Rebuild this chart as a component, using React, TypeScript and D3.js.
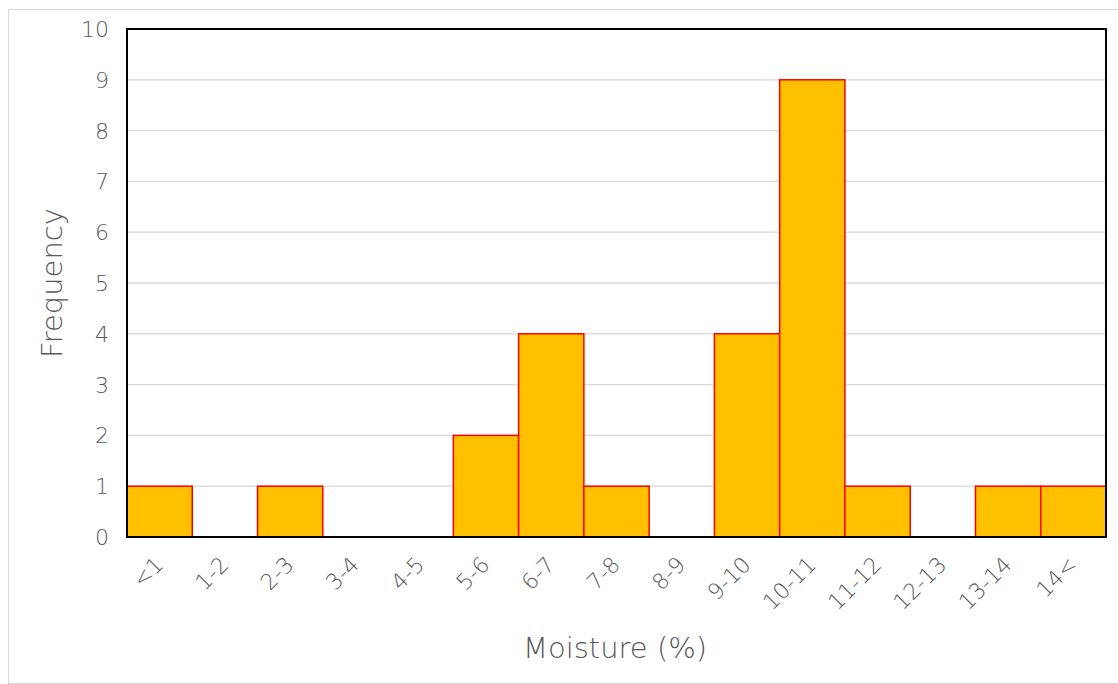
import React from "react";
import * as d3 from "d3";

const categories = ["<1", "1-2", "2-3", "3-4", "4-5", "5-6", "6-7", "7-8", "8-9", "9-10", "10-11", "11-12", "12-13", "13-14", "14<"];
const frequencies = [1, 0, 1, 0, 0, 2, 4, 1, 0, 4, 9, 1, 0, 1, 1];
const yTicks = [0, 1, 2, 3, 4, 5, 6, 7, 8, 9, 10];

const W = 1118;
const H = 684;
const M = { left: 127, top: 29, right: 1106, bottom: 537 };
const FONT = "'DejaVu Sans', sans-serif";
const TEXT = "#595959";

export default function App() {
  const x = d3.scaleBand<string>().domain(categories).range([M.left, M.right]).padding(0);
  const y = d3.scaleLinear().domain([0, 10]).range([M.bottom, M.top]);

  return (
    <svg width={W} height={H} style={{ position: "absolute", left: 0, top: 0 }}>
      <rect x={0} y={0} width={W} height={H} fill="#fff" />
      <rect x={8.5} y={9.5} width={W + 10} height={H - 10} fill="none" stroke="#d9d9d9" strokeWidth={1} />

      {/* gridlines */}
      {yTicks.filter((t) => t > 0 && t < 10).map((t) => (
        <line key={t} x1={M.left} x2={M.right} y1={y(t)} y2={y(t)} stroke="#d9d9d9" strokeWidth={1.3} />
      ))}

      {/* bars */}
      {categories.map((c, i) =>
        frequencies[i] > 0 ? (
          <rect
            key={c}
            x={x(c)!}
            y={y(frequencies[i])}
            width={x.bandwidth()}
            height={y(0) - y(frequencies[i])}
            fill="#ffc000"
            stroke="#ff0000"
            strokeWidth={1.5}
          />
        ) : null
      )}

      {/* plot frame */}
      <rect x={M.left} y={M.top} width={M.right - M.left} height={M.bottom - M.top} fill="none" stroke="#000" strokeWidth={2} />

      {/* y tick labels */}
      {yTicks.map((t) => (
        <text key={t} x={109} y={y(t)} dy="0.36em" textAnchor="end" fontFamily={FONT} fontWeight={200} fontSize={22} fill={TEXT}>
          {t}
        </text>
      ))}

      {/* x tick labels, rotated so each one ends just below its bar */}
      {categories.map((c) => {
        const cx = x(c)! + x.bandwidth() / 2 + 5;
        const cy = 566;
        return (
          <text
            key={c}
            x={cx}
            y={cy}
            textAnchor="end"
            transform={`rotate(-45, ${cx}, ${cy})`}
            fontFamily={FONT}
            fontWeight={200}
            fontSize={22}
            fill={TEXT}
          >
            {c}
          </text>
        );
      })}

      {/* axis titles */}
      <text x={615} y={658} textAnchor="middle" fontFamily={FONT} fontWeight={200} fontSize={29} fill={TEXT}>
        Moisture (%)
      </text>
      <text
        transform={`translate(62, 283) rotate(-90)`}
        textAnchor="middle"
        fontFamily={FONT}
        fontWeight={200}
        fontSize={29}
        fill={TEXT}
      >
        Frequency
      </text>
    </svg>
  );
}
